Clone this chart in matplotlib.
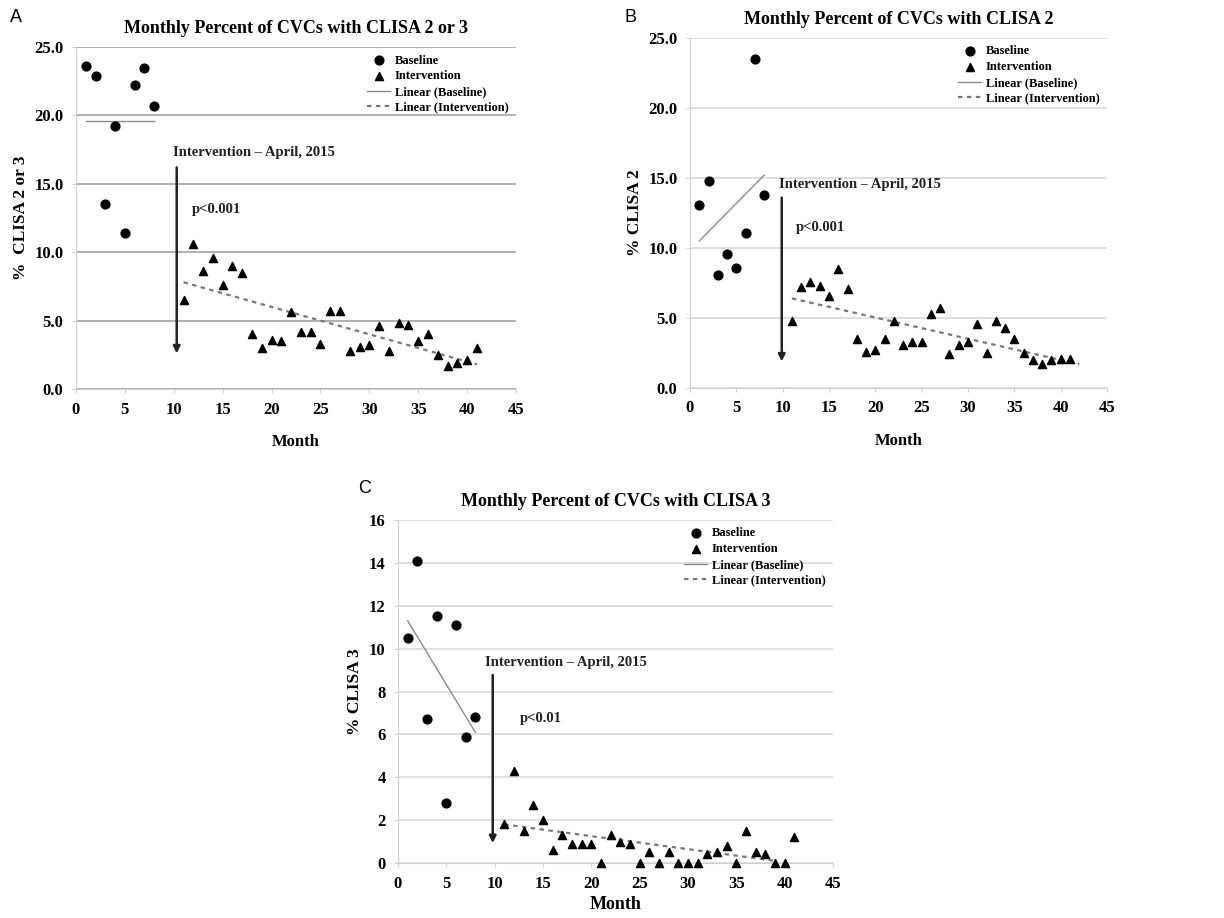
import numpy as np
import matplotlib
matplotlib.use("Agg")
from matplotlib import pyplot as plt

plt.rcParams['font.family'] = ['Liberation Serif', 'DejaVu Serif']
plt.rcParams['font.weight'] = 'bold'

# data
base_months = [1, 2, 3, 4, 5, 6, 7, 8]
int_months = list(range(11, 42))

a_base = [23.6, 22.9, 13.5, 19.2, 11.4, 22.2, 23.5, 20.7]
a_int = [6.5, 10.6, 8.6, 9.6, 7.6, 9.0, 8.5, 4.0, 3.0, 3.6, 3.5, 5.6, 4.2, 4.2, 3.3, 5.7,
         5.7, 2.8, 3.1, 3.2, 4.6, 2.8, 4.8, 4.7, 3.5, 4.0, 2.5, 1.7, 1.9, 2.1, 3.0]
a_base_fit = [(1, 8), (19.6, 19.6)]
a_int_fit = [(11, 41), (7.8, 1.8)]

b_base = [13.1, 14.8, 8.1, 9.6, 8.6, 11.1, 23.5, 13.8]
b_int = [4.8, 7.2, 7.6, 7.3, 6.6, 8.5, 7.1, 3.5, 2.6, 2.7, 3.5, 4.8, 3.1, 3.3, 3.3, 5.3,
         5.7, 2.4, 3.1, 3.3, 4.6, 2.5, 4.8, 4.3, 3.5, 2.5, 2.0, 1.7, 2.0, 2.1, 2.1]
b_base_fit = [(1, 8), (10.5, 15.2)]
b_int_fit = [(11, 42), (6.4, 1.7)]

c_base = [10.5, 14.1, 6.7, 11.5, 2.8, 11.1, 5.9, 6.8]
c_int = [1.8, 4.3, 1.5, 2.7, 2.0, 0.6, 1.3, 0.9, 0.9, 0.9, 0.0, 1.3, 1.0, 0.9, 0.0, 0.5,
         0.0, 0.5, 0.0, 0.0, 0.0, 0.4, 0.5, 0.8, 0.0, 1.5, 0.5, 0.4, 0.0, 0.0, 1.2]
c_base_fit = [(1, 8), (11.3, 6.1)]
c_int_fit = [(11, 39), (1.8, 0.1)]

W, H = 1224, 918
fig = plt.figure(figsize=(W / 100, H / 100), dpi=100)


def px_axes(left, top, right, bottom):
    return fig.add_axes([left / W, 1 - bottom / H, (right - left) / W, (bottom - top) / H])


def panel(ax, base, inter, bfit, ifit, title, ylab, ymax, ystep, fmt, grid_col,
          arrow_x, arrow_top, arrow_bot, txt_xy, p_txt, p_xy, xpad=12, xsize=12):
    ax.scatter(base_months, base, marker='o', s=40, color='black', label='Baseline',
               zorder=3, clip_on=False)
    ax.scatter(int_months, inter, marker='^', s=34, color='black', label='Intervention',
               zorder=3, clip_on=False)
    ax.plot(bfit[0], bfit[1], color='#8a8a8a', lw=1.0, label='Linear (Baseline)')
    ax.plot(ifit[0], ifit[1], color='#777777', lw=1.6, ls=(0, (2, 2)), label='Linear (Intervention)')
    ax.set_xlim(0, 45)
    ax.set_ylim(0, ymax)
    ax.set_xticks(range(0, 46, 5))
    ticks = np.arange(0, ymax + ystep / 2, ystep)
    ax.set_yticks(ticks)
    ax.set_yticklabels([fmt.format(t) for t in ticks])
    ax.yaxis.grid(True, color=grid_col, lw=1.3)
    ax.set_axisbelow(True)
    for s in ['top', 'right']:
        ax.spines[s].set_visible(False)
    for s in ['left', 'bottom']:
        ax.spines[s].set_color('#cfcfcf')
    ax.tick_params(labelsize=12, length=3, color='#cfcfcf', pad=6)
    ax.set_title(title, fontsize=13, fontweight='bold', pad=10)
    ax.set_ylabel(ylab, fontsize=12.5, fontweight='bold')
    ax.set_xlabel('Month', fontsize=xsize, fontweight='bold', labelpad=xpad)
    ax.annotate('', xy=(arrow_x, arrow_bot), xytext=(arrow_x, arrow_top),
                arrowprops=dict(arrowstyle='-|>', color='#222222', lw=1.8, mutation_scale=10))
    ax.text(txt_xy[0], txt_xy[1], 'Intervention \u2013 April, 2015', fontsize=10.5,
            fontweight='bold', color='#222222')
    ax.text(p_xy[0], p_xy[1], p_txt, fontsize=10.5, fontweight='bold', color='#222222')
    ax.legend(loc='upper right', frameon=False, fontsize=9, handlelength=1.8,
              handletextpad=0.4, labelspacing=0.3, borderaxespad=0.2)


axA = px_axes(76, 47, 516, 389)
panel(axA, a_base, a_int, a_base_fit, a_int_fit, 'Monthly Percent of CVCs with CLISA 2 or 3',
      '%  CLISA 2 or 3', 25, 5, '{:.1f}', '#a9a9a9',
      10.3, 16.4, 2.4, (9.9, 17.0), 'p<0.001', (11.9, 12.9))

axB = px_axes(690, 38, 1107, 388)
panel(axB, b_base, b_int, b_base_fit, b_int_fit, 'Monthly Percent of CVCs with CLISA 2',
      '% CLISA 2', 25, 5, '{:.1f}', '#dcdcdc',
      9.9, 13.8, 1.7, (9.6, 14.3), 'p<0.001', (11.4, 11.2))

axC = px_axes(398, 520, 833, 863)
panel(axC, c_base, c_int, c_base_fit, c_int_fit, 'Monthly Percent of CVCs with CLISA 3',
      '% CLISA 3', 16, 2, '{:.0f}', '#dcdcdc',
      9.8, 8.9, 0.8, (9.0, 9.2), 'p<0.01', (12.6, 6.6), xpad=3, xsize=13)

fig.text(10 / W, 1 - 18 / H, 'A', fontsize=13, family='Liberation Sans', weight='normal', va='center')
fig.text(624 / W, 1 - 18 / H, 'B', fontsize=13, family='Liberation Sans', weight='normal', va='center')
fig.text(358 / W, 1 - 488 / H, 'C', fontsize=13, family='Liberation Sans', weight='normal', va='center')

fig.savefig('out.png', dpi=100)
